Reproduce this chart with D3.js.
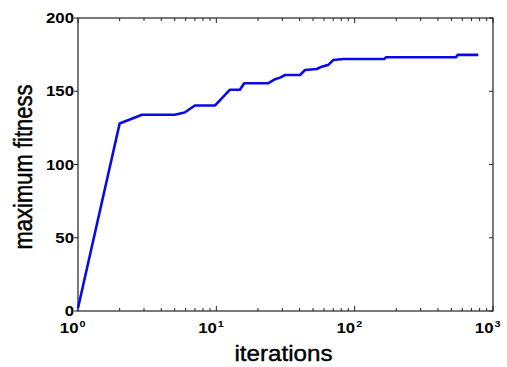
<!DOCTYPE html>
<html>
<head>
<meta charset="utf-8">
<script src="https://cdn.jsdelivr.net/npm/d3@7"></script>
<style>
  body { margin: 0; background: #fff; }
  text { font-family: "Liberation Sans", Arial, sans-serif; fill: #000; }
</style>
</head>
<body>
<div id="chart"></div>
<script>
// valeurs
const iterations = [1, 2, 2.9, 5, 5.9, 7, 9.8, 12.5, 14.8, 15.9, 23.8, 26.6, 28.9, 31.4, 40.3, 43.8,
    53.2, 57.8, 64.5, 70.1, 82.8, 164, 168, 540, 555, 783];
const fitness = [2, 128, 134, 134, 135.5, 140.3, 140.3, 151, 151, 155.5, 155.5, 158.2, 159.3, 161.1, 161.1, 164.5,
    165.2, 166.8, 168, 171.3, 172, 172, 173.2, 173.2, 174.8, 174.8];
const yTicks = [0, 50, 100, 150, 200];
const xDecades = [0, 1, 2, 3];

const W = 507, H = 367;
const mLeft = 78, mRight = 493, mTop = 18, mBottom = 311;
const sx = 1.2; // étirement horizontal du texte

const svg = d3.select("#chart").append("svg")
    .attr("width", W)
    .attr("height", H);

const x = d3.scaleLog().domain([1, 1000]).range([mLeft, mRight]);
const y = d3.scaleLinear().domain([0, 200]).range([mBottom, mTop]);

// cadre
svg.append("rect")
    .attr("x", mLeft).attr("y", mTop)
    .attr("width", mRight - mLeft).attr("height", mBottom - mTop)
    .attr("fill", "none").attr("stroke", "#222").attr("stroke-width", 1.2);

// graduations x (majeures + mineures, vers l'intérieur, haut et bas)
const minor = [];
xDecades.slice(0, -1).forEach(k => {
    for (let m = 2; m <= 9; m++) minor.push(m * Math.pow(10, k));
});
const g = svg.append("g").attr("stroke", "#222").attr("stroke-width", 1);
minor.forEach(v => {
    g.append("line").attr("x1", x(v)).attr("x2", x(v)).attr("y1", mBottom).attr("y2", mBottom - 3);
    g.append("line").attr("x1", x(v)).attr("x2", x(v)).attr("y1", mTop).attr("y2", mTop + 3);
});
xDecades.forEach(k => {
    const v = Math.pow(10, k);
    g.append("line").attr("x1", x(v)).attr("x2", x(v)).attr("y1", mBottom).attr("y2", mBottom - 5);
    g.append("line").attr("x1", x(v)).attr("x2", x(v)).attr("y1", mTop).attr("y2", mTop + 5);
});

// graduations y
yTicks.forEach(v => {
    g.append("line").attr("x1", mLeft).attr("x2", mLeft - 4).attr("y1", y(v)).attr("y2", y(v));
    g.append("line").attr("x1", mRight).attr("x2", mRight - 4).attr("y1", y(v)).attr("y2", y(v));
});

// étiquettes y
yTicks.forEach(v => {
    svg.append("text")
        .attr("transform", `translate(${mLeft - 4},${y(v) + 5}) scale(${sx},1)`)
        .attr("text-anchor", "end")
        .attr("font-size", 14)
        .attr("font-weight", "bold")
        .text(v);
});

// étiquettes x : 10^k
xDecades.forEach(k => {
    const px = x(Math.pow(10, k));
    svg.append("text")
        .attr("transform", `translate(${px + 0.5},333) scale(${sx},1)`)
        .attr("text-anchor", "end")
        .attr("font-size", 14)
        .attr("font-weight", "bold")
        .text("10");
    svg.append("text")
        .attr("transform", `translate(${px + 1.5},327) scale(${sx},1)`)
        .attr("font-size", 9)
        .attr("font-weight", "bold")
        .text(k);
});

// titres des axes
svg.append("text")
    .attr("transform", `translate(${(mLeft + mRight) / 2 - 2},361) scale(1.1,1)`)
    .attr("text-anchor", "middle")
    .attr("font-size", 22)
    .attr("stroke", "#000").attr("stroke-width", 0.4)
    .text("iterations");

svg.append("text")
    .attr("transform", `translate(32,167) rotate(-90) scale(1,1.15)`)
    .attr("text-anchor", "middle")
    .attr("font-size", 22)
    .attr("stroke", "#000").attr("stroke-width", 0.4)
    .text("maximum fitness");

// courbe
const line = d3.line()
    .x((d, i) => x(iterations[i]))
    .y(d => y(d));

svg.append("path")
    .datum(fitness)
    .attr("d", line)
    .attr("fill", "none")
    .attr("stroke", "#0a0ae6")
    .attr("stroke-width", 2.6)
    .attr("stroke-linejoin", "round");
</script>
</body>
</html>
